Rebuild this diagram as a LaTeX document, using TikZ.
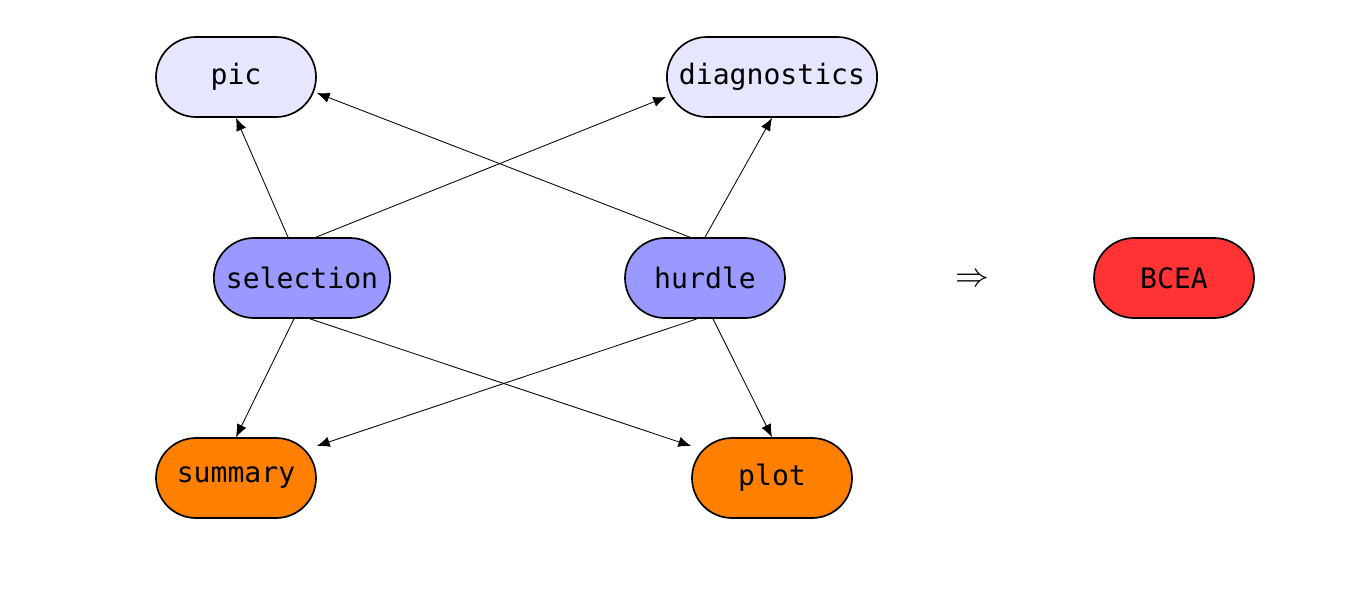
\documentclass[tikz,border=0pt]{standalone}
\usepackage{fontspec}
\setmonofont{DejaVu Sans Mono}
\usepackage{amsmath}
\usepackage{amssymb}
\usepackage{tikz}
\usetikzlibrary{arrows.meta}
\tikzset{>={Latex[width=1.3mm,length=1.6mm]}}
\usepackage{color}
\definecolor{outColor}{RGB}{230, 230, 255}
\definecolor{modelColor}{RGB}{153, 153, 255}
\definecolor{sumColor}{RGB}{255, 128, 0}
\definecolor{bceaColor}{RGB}{255, 51, 51}

\begin{document}
\begin{tikzpicture}[
    node distance = 0mm,
    box/.style = {draw, semithick, rounded corners=5mm, minimum width=2cm,
        minimum height=1cm, inner xsep=1.5mm, font=\ttfamily},
    link/.style = {->, line width=0.3pt}
  ]
  \useasboundingbox (0,0) rectangle (16.95,-7.3875);

  \node[box, fill=outColor] (pic) at (2.95,-0.9625) {pic};
  \node[box, fill=outColor] (diagnostics) at (9.65,-0.9625) {diagnostics};
  \node[box, fill=modelColor] (selection) at (3.775,-3.475) {selection};
  \node[box, fill=modelColor] (hurdle) at (8.8125,-3.475) {hurdle};
  \node[box, fill=sumColor] (summary) at (2.95,-5.975) {summary};
  \node[box, fill=sumColor] (plot) at (9.65,-5.975) {plot};
  \node[font=\large] (implies) at (12.15,-3.5) {$\Rightarrow$};
  \node[box, fill=bceaColor] (BCEA) at (14.675,-3.475) {BCEA};

  \draw[link] ([xshift=-1.75mm]selection.north) -- (pic.south);
  \draw[link] ([xshift=1.75mm]selection.north) -- ([yshift=-2.5mm]diagnostics.west);
  \draw[link] ([xshift=-1.9mm]hurdle.north) -- ([yshift=-2mm]pic.east);
  \draw[link] (hurdle.north) -- (diagnostics.south);
  \draw[link] ([xshift=-1mm]selection.south) -- (summary.north);
  \draw[link] ([xshift=1mm]selection.south) -- ([yshift=4mm]plot.west);
  \draw[link] ([xshift=-1mm]hurdle.south) -- ([yshift=4mm]summary.east);
  \draw[link] ([xshift=1mm]hurdle.south) -- (plot.north);
\end{tikzpicture}
\end{document}
